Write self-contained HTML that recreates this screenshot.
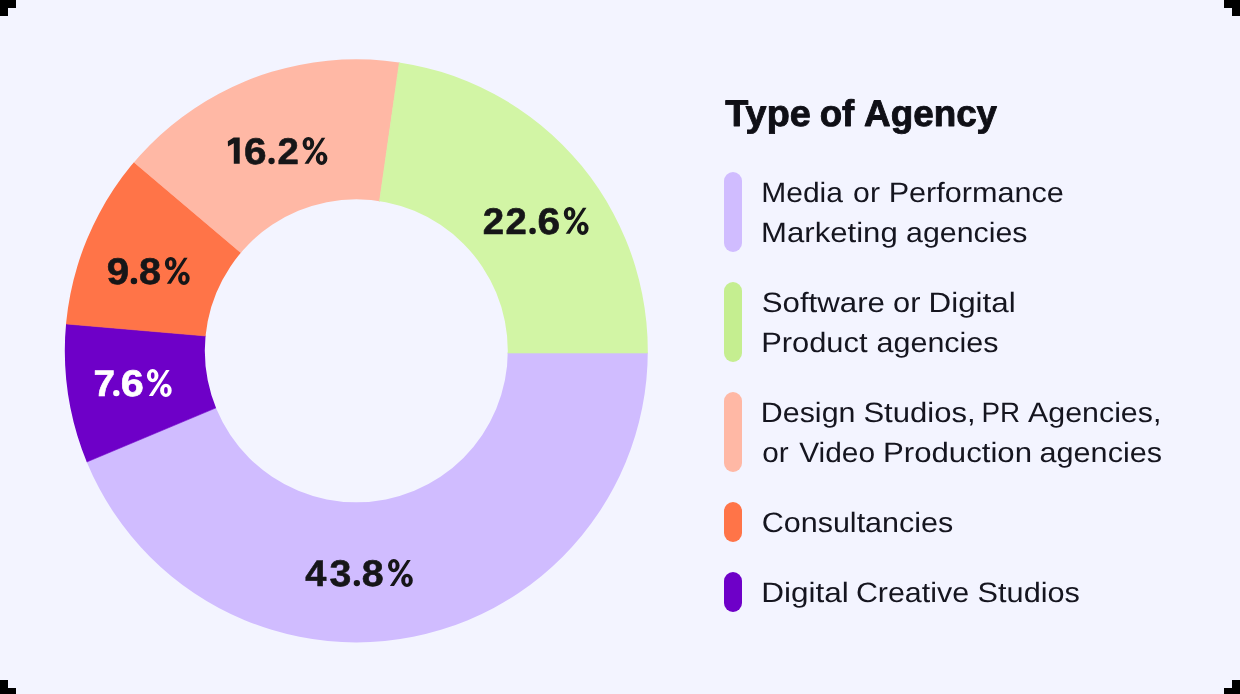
<!DOCTYPE html>
<html><head><meta charset="utf-8"><title>Type of Agency</title>
<style>
html,body{margin:0;padding:0;background:#f3f4ff;}
body{width:1240px;height:694px;overflow:hidden;font-family:"Liberation Sans",sans-serif;}
svg{display:block;font-family:"Liberation Sans",sans-serif;}
svg text{text-rendering:geometricPrecision;}
.gray{filter:opacity(1);will-change:opacity;}
</style></head><body>
<svg width="1240" height="694" viewBox="0 0 1240 694">
<defs><clipPath id="donut"><path clip-rule="evenodd" d="M64.80000000000001,350.8a291.5,291.5 0 1,0 583.0,0a291.5,291.5 0 1,0 -583.0,0Z M204.8,350.8a151.5,151.5 0 1,0 303.0,0a151.5,151.5 0 1,0 -303.0,0Z"/></clipPath></defs>
<rect width="1240" height="694" fill="#f3f4ff"/>
<g clip-path="url(#donut)">
<polygon points="451.72,353.00 732.12,353.00 842.43,467.76 803.28,574.86 740.89,670.31 658.49,749.15 560.38,807.26 451.65,841.62 337.96,850.46 225.22,833.31 119.30,791.06 25.71,725.91 -50.68,641.25 9.66,494.30 267.46,386.30" fill="#d0bcff" stroke="#d0bcff" stroke-width="0.6"/>
<polygon points="267.46,386.30 9.66,494.30 -113.22,522.71 -119.76,503.66 -125.53,484.35 -130.52,464.84 -134.72,445.13 -138.12,425.27 -140.72,405.30 -142.51,385.23 -143.50,365.11 -143.67,344.96 -143.02,324.82 -18.04,316.70 260.76,340.70" fill="#6e00c8" stroke="#6e00c8" stroke-width="0.6"/>
<polygon points="260.76,340.70 -18.04,316.70 -138.58,279.44 -134.31,254.34 -128.76,229.49 -121.96,204.95 -113.91,180.79 -104.64,157.07 -94.18,133.86 -82.56,111.20 -69.79,89.17 -55.92,67.82 -40.97,47.20 69.82,107.90 282.42,287.90" fill="#ff7448" stroke="#ff7448" stroke-width="0.6"/>
<polygon points="282.42,287.90 69.82,107.90 3.70,-3.71 34.93,-32.25 68.47,-58.04 104.06,-80.91 141.46,-100.69 180.39,-117.23 220.59,-130.43 261.75,-140.18 303.60,-146.41 345.82,-149.09 388.12,-148.19 411.12,-19.62 371.72,255.78" fill="#ffb8a5" stroke="#ffb8a5" stroke-width="0.6"/>
<polygon points="371.72,255.78 411.12,-19.62 488.45,-131.42 544.84,-112.29 598.56,-86.59 648.84,-54.69 694.98,-17.03 736.30,25.84 772.24,73.33 802.28,124.74 825.99,179.37 843.04,236.42 853.19,295.10 732.12,353.00 451.72,353.00" fill="#d2f5a5" stroke="#d2f5a5" stroke-width="0.6"/>
</g>
<path fill="#000" d="M0,0h16v8h-8v8h-8Z M1240,0h-16v8h8v8h8Z M0,694h16v-6h-8v-8h-8Z M1240,694h-16v-6h8v-8h8Z"/>
<rect x="724" y="172" width="18" height="80" rx="9" fill="#d0bcff"/>
<rect x="724" y="282" width="18" height="80" rx="9" fill="#c5ee90"/>
<rect x="724" y="392" width="18" height="80" rx="9" fill="#ffb8a5"/>
<rect x="724" y="502" width="18" height="40" rx="9" fill="#ff7448"/>
<rect x="724" y="572" width="18" height="40" rx="9" fill="#6e00c8"/>
<g class="gray">
<path fill-rule="evenodd" fill="#161618" d="M388.00,565.60a5.8,6.6 0 1,0 11.6,0a5.8,6.6 0 1,0 -11.6,0ZM392.00,565.60a1.8,3.3 0 1,0 3.6,0a1.8,3.3 0 1,0 -3.6,0ZM401.20,580.40a5.8,6.6 0 1,0 11.6,0a5.8,6.6 0 1,0 -11.6,0ZM405.20,580.40a1.8,3.3 0 1,0 3.6,0a1.8,3.3 0 1,0 -3.6,0ZM407.10,559.90L410.70,559.90L394.00,585.90L389.90,585.90Z"/>
<path fill-rule="evenodd" fill="#161618" d="M563.80,213.50a5.8,6.6 0 1,0 11.6,0a5.8,6.6 0 1,0 -11.6,0ZM567.80,213.50a1.8,3.3 0 1,0 3.6,0a1.8,3.3 0 1,0 -3.6,0ZM577.00,228.30a5.8,6.6 0 1,0 11.6,0a5.8,6.6 0 1,0 -11.6,0ZM581.00,228.30a1.8,3.3 0 1,0 3.6,0a1.8,3.3 0 1,0 -3.6,0ZM582.90,207.80L586.50,207.80L569.80,233.80L565.70,233.80Z"/>
<path fill-rule="evenodd" fill="#161618" d="M302.60,143.50a5.8,6.6 0 1,0 11.6,0a5.8,6.6 0 1,0 -11.6,0ZM306.60,143.50a1.8,3.3 0 1,0 3.6,0a1.8,3.3 0 1,0 -3.6,0ZM315.80,158.30a5.8,6.6 0 1,0 11.6,0a5.8,6.6 0 1,0 -11.6,0ZM319.80,158.30a1.8,3.3 0 1,0 3.6,0a1.8,3.3 0 1,0 -3.6,0ZM321.70,137.80L325.30,137.80L308.60,163.80L304.50,163.80Z"/>
<path fill-rule="evenodd" fill="#161618" d="M164.90,263.50a5.8,6.6 0 1,0 11.6,0a5.8,6.6 0 1,0 -11.6,0ZM168.90,263.50a1.8,3.3 0 1,0 3.6,0a1.8,3.3 0 1,0 -3.6,0ZM178.10,278.30a5.8,6.6 0 1,0 11.6,0a5.8,6.6 0 1,0 -11.6,0ZM182.10,278.30a1.8,3.3 0 1,0 3.6,0a1.8,3.3 0 1,0 -3.6,0ZM184.00,257.80L187.60,257.80L170.90,283.80L166.80,283.80Z"/>
<path fill-rule="evenodd" fill="#ffffff" d="M146.90,375.60a5.8,6.6 0 1,0 11.6,0a5.8,6.6 0 1,0 -11.6,0ZM150.90,375.60a1.8,3.3 0 1,0 3.6,0a1.8,3.3 0 1,0 -3.6,0ZM160.10,390.40a5.8,6.6 0 1,0 11.6,0a5.8,6.6 0 1,0 -11.6,0ZM164.10,390.40a1.8,3.3 0 1,0 3.6,0a1.8,3.3 0 1,0 -3.6,0ZM166.00,369.90L169.60,369.90L152.90,395.90L148.80,395.90Z"/>
<polygon points="233.7,137.6 239.7,137.6 239.7,163.8 233.8,163.8 233.8,143.3 228.0,146.5 227.8,141.2" fill="#161618"/>
<circle cx="356.85" cy="583.10" r="3.15" fill="#161618"/>
<circle cx="532.55" cy="231.00" r="3.25" fill="#161618"/>
<circle cx="271.55" cy="161.00" r="3.15" fill="#161618"/>
<circle cx="133.95" cy="281.00" r="3.25" fill="#161618"/>
<circle cx="116.30" cy="393.10" r="3.20" fill="#ffffff"/>
<g font-size="37" font-weight="700" fill="#0f0f16" stroke="#0f0f16" stroke-width="0.9" stroke-linejoin="round">
<text x="725.32" y="126.2" textLength="85.46" lengthAdjust="spacingAndGlyphs">Type</text>
<text x="819.7" y="126.2" textLength="34.57" lengthAdjust="spacingAndGlyphs">of</text>
<text x="864.1" y="126.2" textLength="133.0" lengthAdjust="spacingAndGlyphs">Agency</text>
</g>
<g font-size="37" font-weight="700" fill="#161618" stroke="#161618" stroke-width="0.6" stroke-linejoin="round">
<text x="305.19" y="586.0" textLength="21.13" lengthAdjust="spacingAndGlyphs">4</text>
<text x="329.5" y="586.0" textLength="21.82" lengthAdjust="spacingAndGlyphs">3</text>
<text x="361.84" y="586.0" textLength="21.91" lengthAdjust="spacingAndGlyphs">8</text>
<text x="482.7" y="233.9" textLength="21.37" lengthAdjust="spacingAndGlyphs">2</text>
<text x="505.41" y="233.9" textLength="21.26" lengthAdjust="spacingAndGlyphs">2</text>
<text x="537.5" y="233.9" textLength="22.66" lengthAdjust="spacingAndGlyphs">6</text>
<text x="244.0" y="163.9" textLength="22.55" lengthAdjust="spacingAndGlyphs">6</text>
<text x="277.6" y="163.9" textLength="21.37" lengthAdjust="spacingAndGlyphs">2</text>
<text x="106.84" y="283.9" textLength="22.43" lengthAdjust="spacingAndGlyphs">9</text>
<text x="139.04" y="283.9" textLength="22.02" lengthAdjust="spacingAndGlyphs">8</text>
</g>
<g font-size="37" font-weight="700" fill="#ffffff" stroke="#ffffff" stroke-width="0.6" stroke-linejoin="round">
<text x="93.52" y="396.0" textLength="21.51" lengthAdjust="spacingAndGlyphs">7</text>
<text x="120.88" y="396.0" textLength="23.1" lengthAdjust="spacingAndGlyphs">6</text>
</g>
<g font-size="28" font-weight="400" fill="#15151f">
<text x="761.23" y="202" textLength="81.68" lengthAdjust="spacingAndGlyphs">Media</text>
<text x="853.13" y="202" textLength="26.86" lengthAdjust="spacingAndGlyphs">or</text>
<text x="888.67" y="202" textLength="175.21" lengthAdjust="spacingAndGlyphs">Performance</text>
<text x="761.13" y="242" textLength="136.6" lengthAdjust="spacingAndGlyphs">Marketing</text>
<text x="906.11" y="242" textLength="121.31" lengthAdjust="spacingAndGlyphs">agencies</text>
<text x="761.7" y="312" textLength="123.26" lengthAdjust="spacingAndGlyphs">Software</text>
<text x="893.11" y="312" textLength="27.39" lengthAdjust="spacingAndGlyphs">or</text>
<text x="928.61" y="312" textLength="87.05" lengthAdjust="spacingAndGlyphs">Digital</text>
<text x="761.15" y="352" textLength="106.43" lengthAdjust="spacingAndGlyphs">Product</text>
<text x="876.6" y="352" textLength="121.93" lengthAdjust="spacingAndGlyphs">agencies</text>
<text x="760.84" y="422" textLength="94.62" lengthAdjust="spacingAndGlyphs">Design</text>
<text x="863.41" y="422" textLength="112.22" lengthAdjust="spacingAndGlyphs">Studios,</text>
<text x="981.46" y="422" textLength="38.59" lengthAdjust="spacingAndGlyphs">PR</text>
<text x="1028.12" y="422" textLength="133.24" lengthAdjust="spacingAndGlyphs">Agencies,</text>
<text x="762.16" y="462" textLength="26.43" lengthAdjust="spacingAndGlyphs">or</text>
<text x="799.19" y="462" textLength="75.88" lengthAdjust="spacingAndGlyphs">Video</text>
<text x="882.98" y="462" textLength="149.04" lengthAdjust="spacingAndGlyphs">Production</text>
<text x="1039.6" y="462" textLength="122.44" lengthAdjust="spacingAndGlyphs">agencies</text>
<text x="761.69" y="532" textLength="191.6" lengthAdjust="spacingAndGlyphs">Consultancies</text>
<text x="761.15" y="602" textLength="87.58" lengthAdjust="spacingAndGlyphs">Digital</text>
<text x="855.9" y="602" textLength="113.14" lengthAdjust="spacingAndGlyphs">Creative</text>
<text x="977.63" y="602" textLength="102.32" lengthAdjust="spacingAndGlyphs">Studios</text>
</g>
</g>
</svg>
</body></html>
